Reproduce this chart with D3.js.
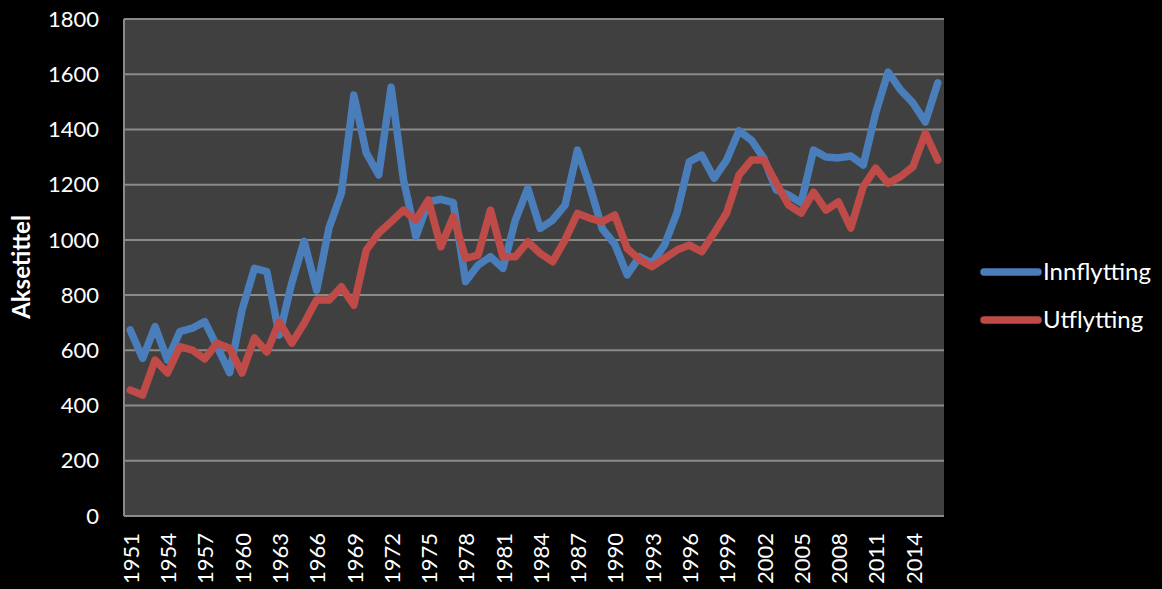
<!DOCTYPE html>
<html><head><meta charset="utf-8">
<script src="https://cdn.jsdelivr.net/npm/d3@7"></script>
<style>body{margin:0;background:#000;}svg{display:block;}</style>
</head><body>
<svg id="c" width="1162" height="589"></svg>
<script>
const years = d3.range(1951, 2017);
const innflytting = [674,571,686,565,668,680,704,613,519,746,897,885,655,843,995,818,1043,1170,1525,1315,1235,1553,1217,1012,1138,1147,1135,849,909,939,897,1072,1187,1042,1072,1126,1325,1193,1040,985,873,939,915,981,1097,1283,1307,1223,1289,1395,1361,1295,1181,1162,1134,1325,1300,1297,1304,1271,1459,1608,1543,1496,1427,1569];
const utflytting = [456,438,565,518,613,601,569,626,608,518,645,594,703,626,698,782,782,830,764,963,1025,1066,1108,1072,1145,975,1084,933,945,1108,939,939,993,951,921,1000,1096,1078,1066,1090,969,928,903,933,963,981,957,1025,1097,1235,1289,1289,1205,1126,1097,1173,1108,1138,1043,1193,1260,1205,1229,1265,1387,1289];
const seriesNames = ["Innflytting","Utflytting"];
const colors = ["#4a7ebb","#be4b48"];
const yTicks = d3.range(0, 1801, 200);
const xTickLabels = years.filter((y,i)=>i%3===0);

const svg = d3.select("#c");
const L=124, R=944, T=19, B=516;
const x = d3.scaleBand().domain(years).range([L,R]);
const y = d3.scaleLinear().domain([0,1800]).range([B,T]);

svg.append("rect").attr("x",L).attr("y",T).attr("width",R-L).attr("height",B-T).attr("fill","#404040");

svg.append("g").selectAll("line").data(yTicks).join("line")
  .attr("x1",L).attr("x2",R).attr("y1",d=>y(d)).attr("y2",d=>y(d))
  .attr("stroke","#8a8a8a").attr("stroke-width",2);
svg.append("line").attr("x1",L).attr("x2",L).attr("y1",T).attr("y2",B).attr("stroke","#8a8a8a").attr("stroke-width",2);

const font = "Lato, 'Open Sans', sans-serif";
svg.append("g").selectAll("text").data(yTicks).join("text")
  .attr("x",99).attr("y",d=>y(d)).attr("dy","0.35em").attr("text-anchor","end")
  .attr("fill","#fff").attr("font-family",font).attr("font-size",22).text(d=>d);

svg.append("g").selectAll("text").data(xTickLabels).join("text")
  .attr("transform",d=>`translate(${x(d)+x.bandwidth()/2+1},${B+17}) rotate(-90)`)
  .attr("dy","0.35em").attr("text-anchor","end")
  .attr("fill","#fff").attr("font-family",font).attr("font-size",22).text(d=>d);

svg.append("text").attr("transform",`translate(22,267) rotate(-90)`).attr("text-anchor","middle").attr("dy","0.35em")
  .attr("fill","#fff").attr("font-family",font).attr("font-weight","bold").attr("font-size",24).text("Aksetittel");

const line = d3.line().x((d,i)=>x(years[i])+x.bandwidth()/2).y(d=>y(d)).curve(d3.curveLinear);
[innflytting, utflytting].forEach((s,k)=>{
  svg.append("path").datum(s).attr("d",line).attr("fill","none").attr("stroke",colors[k])
    .attr("stroke-width",7.5).attr("stroke-linejoin","round").attr("stroke-linecap","round");
});

const lg = svg.append("g");
seriesNames.forEach((n,k)=>{
  const yy = 272 + k*48;
  lg.append("line").attr("x1",984).attr("x2",1038).attr("y1",yy).attr("y2",yy)
    .attr("stroke",colors[k]).attr("stroke-width",7.5).attr("stroke-linecap","round");
  lg.append("text").attr("x",1043).attr("y",yy).attr("dy","0.35em").attr("fill","#fff")
    .attr("font-family",font).attr("font-size",24).text(n);
});
</script>
</body></html>
